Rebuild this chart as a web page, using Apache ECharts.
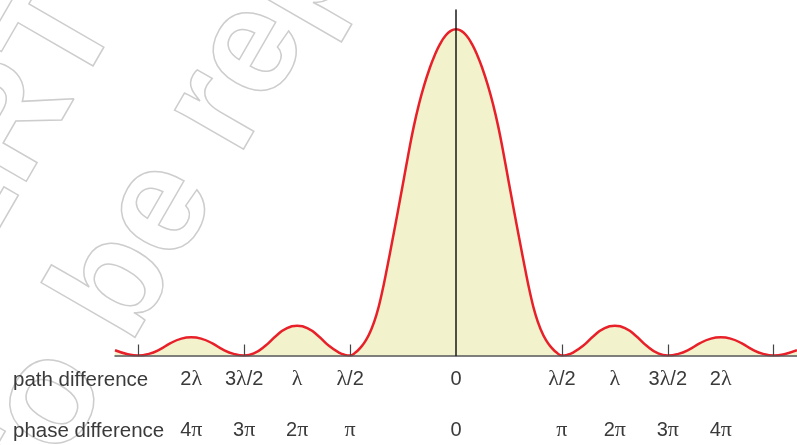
<!DOCTYPE html>
<html>
<head>
<meta charset="utf-8">
<script src="https://cdn.jsdelivr.net/npm/echarts@6/dist/echarts.min.js"></script>
<style>
  html, body { margin: 0; padding: 0; background: #ffffff; }
  #chart { width: 797px; height: 445px; }
</style>
</head>
<body>
<div id="chart"></div>
<script>
// Single-slit diffraction: relative intensity against position on the screen.
// Position is measured in units of the spacing between neighbouring minima.
const positions = [
  -3.22, -3.1, -3.0, -2.9, -2.8, -2.7, -2.6, -2.5, -2.4, -2.3, -2.2, -2.1,
  -2.0, -1.9, -1.8, -1.7, -1.6, -1.5, -1.4, -1.3, -1.2, -1.1, -1.05,
  -1.0, -0.95, -0.9, -0.85, -0.8, -0.75, -0.7, -0.65, -0.6, -0.55, -0.5,
  -0.45, -0.4, -0.35, -0.3, -0.25, -0.2, -0.15, -0.1, -0.05,
  0.0,
  0.05, 0.1, 0.15, 0.2, 0.25, 0.3, 0.35, 0.4, 0.45,
  0.5, 0.55, 0.6, 0.65, 0.7, 0.75, 0.8, 0.85, 0.9, 0.95, 1.0,
  1.05, 1.1, 1.2, 1.3, 1.4, 1.5, 1.6, 1.7, 1.8, 1.9, 2.0,
  2.1, 2.2, 2.3, 2.4, 2.5, 2.6, 2.7, 2.8, 2.9, 3.0,
  3.1, 3.22
];
const intensity = [
  0.016, 0.004, 0.000, 0.005, 0.018, 0.037, 0.051, 0.056, 0.051, 0.037, 0.018, 0.005,
  0.000, 0.008, 0.030, 0.060, 0.083, 0.091, 0.083, 0.060, 0.030, 0.008, 0.002,
  0.000, 0.009, 0.025, 0.047, 0.080, 0.126, 0.191, 0.270, 0.354, 0.440, 0.528,
  0.617, 0.700, 0.770, 0.829, 0.879, 0.921, 0.955, 0.980, 0.995,
  1.000,
  0.995, 0.980, 0.955, 0.921, 0.879, 0.829, 0.770, 0.700, 0.617,
  0.528, 0.440, 0.354, 0.270, 0.191, 0.126, 0.080, 0.047, 0.025, 0.009, 0.000,
  0.002, 0.008, 0.030, 0.060, 0.083, 0.091, 0.083, 0.060, 0.030, 0.008, 0.000,
  0.005, 0.018, 0.037, 0.051, 0.056, 0.051, 0.037, 0.018, 0.005, 0.000,
  0.004, 0.016
];

// Tick marks sit at the minima
const minimaTicks = [-3, -2, -1, 1, 2, 3];

// Two rows of labels under the axis
const labelPositions = [-2.5, -2, -1.5, -1, 0, 1, 1.5, 2, 2.5];
const pathLabels  = ['2λ', '3λ/2', 'λ', 'λ/2', '0', 'λ/2', 'λ', '3λ/2', '2λ'];
const phaseLabels = ['4π', '3π', '2π', 'π', '0', 'π', '2π', '3π', '4π'];
const rowTitles = ['path difference', 'phase difference'];

// Faint outlined stamp behind the plot
const stampLines = ['© NCERT', 'not to be republished'];

const TEXT = '#3a3a3a';
const SANS = '"Liberation Sans", Arial, Helvetica, sans-serif';
const SERIF = '"Liberation Serif", "Times New Roman", serif';

// Greek letters in a serif face, everything else sans
function labelFormatter(texts) {
  return function (value) {
    const i = labelPositions.findIndex(p => Math.abs(p - value) < 1e-6);
    if (i < 0) return '';
    return texts[i].split('').map(ch =>
      (ch === 'λ' || ch === 'π') ? '{g|' + ch + '}' : '{n|' + ch + '}'
    ).join('');
  };
}
const labelRich = {
  n: { fontFamily: SANS, fontSize: 20, color: TEXT, lineHeight: 22 },
  g: { fontFamily: SERIF, fontSize: 22, color: TEXT, lineHeight: 22 }
};

// Stamp geometry: lines run diagonally, each shifted across (up) and along the text direction
const stampAngle = 60 * Math.PI / 180;
const stampStart = [-135, 722];
const stampUp = [-Math.sin(stampAngle), -Math.cos(stampAngle)];
const stampAlong = [Math.cos(stampAngle), -Math.sin(stampAngle)];
function stampText(text, across, along) {
  return {
    type: 'text',
    z: -10,
    silent: true,
    x: stampStart[0] + stampUp[0] * across + stampAlong[0] * along,
    y: stampStart[1] + stampUp[1] * across + stampAlong[1] * along,
    rotation: stampAngle,
    style: {
      text: text,
      font: 'bold 150px ' + SANS,
      fill: 'rgba(255,255,255,0)',
      stroke: '#cdcdcd',
      lineWidth: 1.5,
      textAlign: 'left',
      textVerticalAlign: 'middle'
    }
  };
}

const chart = echarts.init(document.getElementById('chart'), null, { renderer: 'canvas' });

const xMin = -3.22, xMax = 3.22;

chart.setOption({
  animation: false,
  backgroundColor: '#ffffff',
  grid: { left: 115, right: 0, top: 10, bottom: 89.5, containLabel: false },
  xAxis: [
    {
      type: 'value',
      min: xMin,
      max: xMax,
      position: 'bottom',
      axisLine: { show: true, onZero: false, lineStyle: { color: '#555555', width: 1.5 } },
      axisTick: {
        show: true,
        inside: true,
        length: 11,
        customValues: minimaTicks,
        lineStyle: { color: '#444444', width: 1.2 }
      },
      axisLabel: {
        show: true,
        margin: 13,
        customValues: labelPositions,
        formatter: labelFormatter(pathLabels),
        rich: labelRich
      },
      splitLine: { show: false },
      z: 5
    },
    {
      type: 'value',
      min: xMin,
      max: xMax,
      position: 'bottom',
      offset: 51,
      axisLine: { show: false },
      axisTick: { show: false },
      axisLabel: {
        show: true,
        margin: 13,
        customValues: labelPositions,
        formatter: labelFormatter(phaseLabels),
        rich: labelRich
      },
      splitLine: { show: false }
    }
  ],
  yAxis: {
    type: 'value',
    min: 0,
    max: 1.059,
    axisLine: { show: true, onZero: true, onZeroAxisIndex: 0, lineStyle: { color: '#1a1a1a', width: 1.5 } },
    axisTick: { show: false },
    axisLabel: { show: false },
    splitLine: { show: false },
    z: 6
  },
  graphic: [
    stampText(stampLines[0], 172, 70),
    stampText(stampLines[1], 0, 0),
    {
      type: 'text',
      x: 13,
      y: 380.5,
      style: { text: rowTitles[0], font: '20.5px ' + SANS, fill: TEXT, textVerticalAlign: 'middle' }
    },
    {
      type: 'text',
      x: 13,
      y: 431,
      style: { text: rowTitles[1], font: '20.5px ' + SANS, fill: TEXT, textVerticalAlign: 'middle' }
    }
  ],
  series: [
    {
      type: 'line',
      xAxisIndex: 0,
      yAxisIndex: 0,
      data: positions.map((x, i) => [x, intensity[i]]),
      smooth: 0.5,
      symbol: 'none',
      lineStyle: { color: '#e8202a', width: 2.5 },
      areaStyle: { color: '#f2f3cc', opacity: 1, origin: 'start' },
      z: 2
    }
  ]
});
</script>
</body>
</html>
